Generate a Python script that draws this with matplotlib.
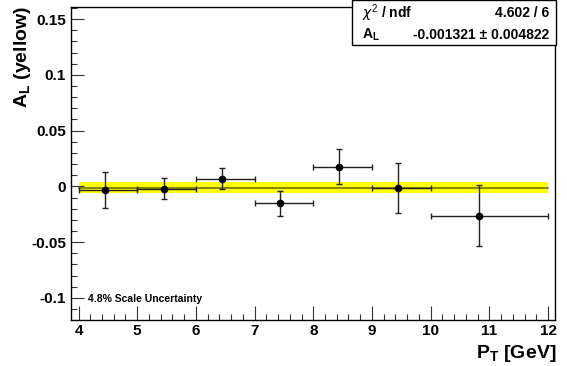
import numpy as np
import matplotlib
matplotlib.use("Agg")
import matplotlib.pyplot as plt
from matplotlib.ticker import MultipleLocator

#
#   A_L vs P_T with constant fit and its uncertainty band
#

plt.rcParams["font.family"] = ["Liberation Sans", "DejaVu Sans"]
plt.rcParams["mathtext.fontset"] = "custom"
plt.rcParams["mathtext.rm"] = "Liberation Sans"
plt.rcParams["mathtext.bf"] = "Liberation Sans:bold"

# data
pt = [4.45, 5.46, 6.45, 7.44, 8.44, 9.45, 10.82]
bin_lo = [4, 5, 6, 7, 8, 9, 10]
bin_hi = [5, 6, 7, 8, 9, 10, 12]
al = [-0.0035, -0.002, 0.0069, -0.0152, 0.0177, -0.0011, -0.0262]
al_err = [0.016, 0.0093, 0.0093, 0.0112, 0.0158, 0.0224, 0.0277]

# constant fit result
fit_value = -0.001321
fit_error = 0.004822
chi2 = 4.602
ndf = 6
scale_unc = "4.8% Scale Uncertainty"

pt = np.array(pt)
xerr = [pt - np.array(bin_lo), np.array(bin_hi) - pt]

fig = plt.figure(figsize=(5.67, 3.66), dpi=100)
ax = fig.add_axes([0.1247, 0.127, 0.979 - 0.1247, 0.981 - 0.127])

# fit band and line
x_fit = np.array([min(bin_lo), max(bin_hi)])
ax.fill_between(x_fit, fit_value - fit_error, fit_value + fit_error,
                color="#ffff00", lw=0, zorder=1)
ax.plot(x_fit, [fit_value, fit_value], color="black", alpha=0.55, lw=1.2, zorder=2)

# points
ax.errorbar(pt, al, yerr=al_err, xerr=xerr, fmt="o", color="black",
            ecolor="#222222", ms=4.5, elinewidth=1.0, capsize=2.2,
            capthick=1.0, zorder=3)

ax.set_xlim(3.867, 12.12)
ax.set_ylim(-0.1195, 0.161)

ax.xaxis.set_major_locator(MultipleLocator(1))
ax.xaxis.set_minor_locator(MultipleLocator(0.2))
ax.yaxis.set_major_locator(MultipleLocator(0.05))
ax.yaxis.set_minor_locator(MultipleLocator(0.01))
ax.tick_params(which="both", direction="in", top=False, right=False,
               labelsize=11, width=0.8, color="#333333")
ax.tick_params(which="major", length=9)
ax.tick_params(axis="x", which="major", length=10)
ax.tick_params(which="minor", length=4.5)
ax.set_yticks([-0.1, -0.05, 0, 0.05, 0.1, 0.15])
ax.set_yticklabels(["-0.1", "-0.05", "0", "0.05", "0.1", "0.15"], fontweight="bold")
ax.set_xticks(range(4, 13))
ax.set_xticklabels([str(v) for v in range(4, 13)], fontweight="bold")
for s in ax.spines.values():
    s.set_linewidth(1.0)

# axis titles
fig.text(0.04, 0.985, r"$\mathbf{A}_{\mathbf{L}}$ (yellow)", rotation=90,
         ha="center", va="top", fontsize=14, fontweight="bold")
fig.text(0.982, 0.035, r"$\mathbf{P}_{\mathbf{T}}$ [GeV]",
         ha="right", va="center", fontsize=14, fontweight="bold")

ax.text(0.035, 0.065, scale_unc, transform=ax.transAxes, fontsize=7.5,
        fontweight="bold", ha="left", va="center")

# stats box
bx0, bx1 = 352 / 567, 556 / 567
by0, by1 = 1 - 45 / 366, 1.0
fig.patches.append(plt.Rectangle((bx0, by0), bx1 - bx0, by1 - by0,
                                 transform=fig.transFigure, facecolor="white",
                                 edgecolor="black", lw=1.0, zorder=5))
fig.text(362 / 567, 1 - 13 / 366, r"$\chi^2$ / ndf", fontsize=10,
         fontweight="bold", ha="left", va="center", zorder=6)
fig.text(549 / 567, 1 - 13 / 366, "%.3f / %d" % (chi2, ndf), fontsize=10,
         fontweight="bold", ha="right", va="center", zorder=6)
fig.text(362 / 567, 1 - 35 / 366, r"$\mathbf{A}_{\mathbf{L}}$", fontsize=10,
         ha="left", va="center", zorder=6)
fig.text(549 / 567, 1 - 35 / 366, "%.6f \u00b1 %.6f" % (fit_value, fit_error),
         fontsize=10, fontweight="bold", ha="right", va="center", zorder=6)

fig.savefig("out.png", dpi=100)
